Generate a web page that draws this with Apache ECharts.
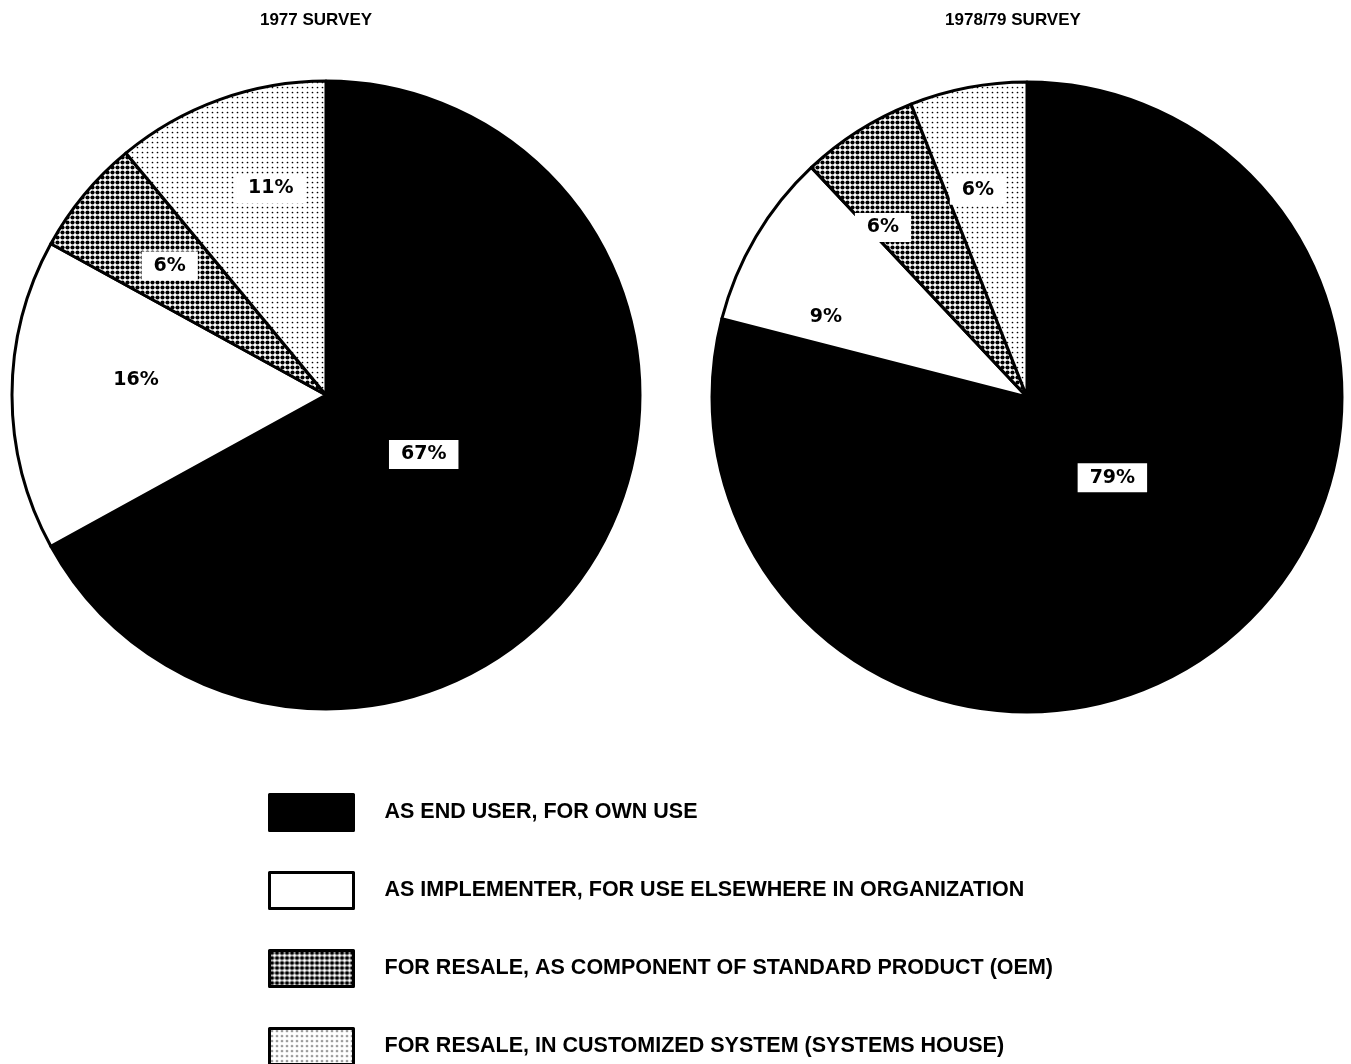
<!DOCTYPE html>
<html><head><meta charset="utf-8">
<script src="https://cdn.jsdelivr.net/npm/echarts@6/dist/echarts.min.js"></script>
<style>html,body{margin:0;padding:0;background:#fff}#c{width:1351px;height:1064px}</style>
</head><body><div id="c"></div>
<script>
// ---- data ----
const categories = [
  'AS END USER, FOR OWN USE',
  'AS IMPLEMENTER, FOR USE ELSEWHERE IN ORGANIZATION',
  'FOR RESALE, AS COMPONENT OF STANDARD PRODUCT (OEM)',
  'FOR RESALE, IN CUSTOMIZED SYSTEM (SYSTEMS HOUSE)'
];
const values1977 = [67, 16, 6, 11];
const values1978 = [79, 9, 6, 6];
const surveyTitles = ['1977 SURVEY', '1978/79 SURVEY'];

// ---- layout / style ----
const labelOffsets1977 = [[-40, -22], [-30, -15], [-33, -27], [-1, -56]];
const labelOffsets1978 = [[-13, -46], [-63, 2], [-58, -34], [-19, -49]];

function dotPattern(tile, radius) {
  const cv = document.createElement('canvas');
  cv.width = tile; cv.height = tile;
  const g = cv.getContext('2d');
  g.fillStyle = '#fff'; g.fillRect(0, 0, tile, tile);
  g.fillStyle = '#000';
  g.beginPath(); g.arc(tile / 2, tile / 2, radius, 0, Math.PI * 2); g.fill();
  return { image: cv, repeat: 'repeat' };
}
const fills = ['#000', '#fff', dotPattern(5, 2.1), dotPattern(5, 0.85)];

function pieSeries(values, center, radius, offsets) {
  return {
    type: 'pie', center: center, radius: radius, startAngle: 90, clockwise: true,
    avoidLabelOverlap: false, silent: true, animation: false,
    itemStyle: { borderColor: '#000', borderWidth: 3 },
    label: {
      show: true, position: 'inside', formatter: p => p.value + '%',
      color: '#000', fontFamily: 'DejaVu Sans', fontWeight: 'bold', fontSize: 19,
      backgroundColor: '#fff', padding: [5, 12]
    },
    labelLine: { show: false },
    emphasis: { disabled: true },
    data: categories.map((name, i) => ({
      name: name, value: values[i],
      itemStyle: { color: fills[i] },
      label: { offset: offsets[i] }
    }))
  };
}

const chart = echarts.init(document.getElementById('c'), null, { renderer: 'canvas' });
chart.setOption({
  backgroundColor: '#fff',
  animation: false,
  title: [
    { text: surveyTitles[0], left: 316, top: 12, textAlign: 'center', padding: 0,
      textStyle: { fontFamily: 'Liberation Sans', fontWeight: 'bold', fontSize: 17, color: '#000' } },
    { text: surveyTitles[1], left: 1013, top: 12, textAlign: 'center', padding: 0,
      textStyle: { fontFamily: 'Liberation Sans', fontWeight: 'bold', fontSize: 17, color: '#000' } }
  ],
  legend: {
    orient: 'vertical', left: 268, top: 793, height: 500, itemWidth: 84, itemHeight: 36, itemGap: 39,
    icon: 'rect', selectedMode: false, padding: 0,
    itemStyle: { borderColor: '#000', borderWidth: 3 },
    textStyle: { fontFamily: 'Liberation Sans', fontWeight: 'bold', fontSize: 21.5, color: '#000', padding: [0, 0, 0, 26] },
    data: categories
  },
  series: [
    pieSeries(values1977, [326, 395], 314, labelOffsets1977),
    pieSeries(values1978, [1027, 397], 315, labelOffsets1978)
  ]
});
</script>
</body></html>
